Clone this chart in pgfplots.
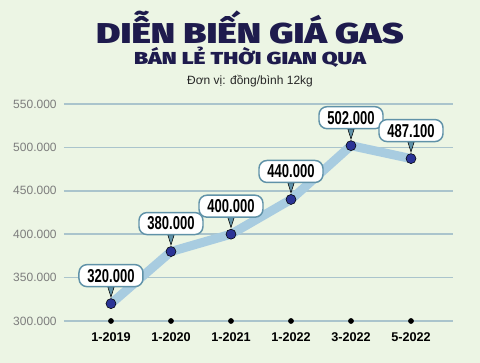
\documentclass[border=0pt]{standalone}
\usepackage{fontspec}
\setmainfont{Liberation Sans}
\newfontfamily\titlefont{Fira Sans Black}
\newfontfamily\labfont{Liberation Sans}[FakeStretch=0.7]
\usepackage{pgfplots}
\pgfplotsset{compat=1.18}
\definecolor{bgc}{RGB}{236,245,228}
\definecolor{titlec}{RGB}{30,27,77}
\definecolor{gridc}{RGB}{170,196,204}
\definecolor{linec}{RGB}{168,204,224}
\definecolor{boxc}{RGB}{96,146,168}
\definecolor{dotc}{RGB}{43,52,150}
\definecolor{tickgray}{RGB}{125,125,125}
\pgfplotstableread{
x y
0 320000
1 380000
2 400000
3 440000
4 502000
5 487100
}\gasdata
\begin{document}
\begin{tikzpicture}
\fill[bgc] (0,0) rectangle (360pt,272.25pt);
\node[text=titlec, inner sep=0pt, anchor=base] at (187.5pt,239.25pt) {\scalebox{1.3}[1.0]{\titlefont\fontsize{21.5}{24}\selectfont DIỄN BIẾN GIÁ GAS}};
\node[text=titlec, inner sep=0pt, anchor=base] at (187.5pt,223.5pt) {\scalebox{1.32}[1.0]{\titlefont\fontsize{13}{16}\selectfont BÁN LẺ THỜI GIAN QUA}};
\node[text=black!85, inner sep=0pt, anchor=base] at (187.5pt,208.5pt) {\fontsize{9}{10}\selectfont Đơn vị: đồng/bình 12kg};
\begin{axis}[
  at={(48pt,31.5pt)}, anchor=south west,
  scale only axis, width=291.75pt, height=162.75pt,
  xmin=-0.783, xmax=5.7, ymin=300000, ymax=550000,
  clip=false,
  axis line style={draw=none},
  major tick length=0pt,
  ymajorgrids, grid style={color=gridc, line width=1.1pt},
  ytick={300000,350000,400000,450000,500000,550000},
  scaled y ticks=false,
  /pgf/number format/assume math mode=true,
  yticklabel={\pgfmathprintnumber[fixed,precision=0,1000 sep={.}]{\tick}},
  yticklabel style={text=tickgray, font=\fontsize{9}{10}\selectfont, xshift=-2pt},
  xtick={0,1,2,3,4,5},
  xticklabels={1-2019,1-2020,1-2021,1-2022,3-2022,5-2022},
  xticklabel style={font=\bfseries\fontsize{9.5}{10}\selectfont, yshift=-5pt},
]
\addplot[line width=6.75pt, color=linec, line join=round] table[x=x,y=y]{\gasdata};
\addplot[only marks, mark=triangle*, mark size=5pt, mark options={fill=boxc, draw=none, yshift=10pt, rotate=180, xscale=0.55}] table[x=x,y=y]{\gasdata};
\addplot[draw=none, mark=none, point meta=y,
  nodes near coords={\pgfmathprintnumber[fixed,precision=0,1000 sep={.}]{\pgfplotspointmeta}},
  nodes near coords style={draw=boxc, line width=1.1pt, fill=white, rounded corners=6pt,
    minimum width=48pt, minimum height=16.5pt, inner sep=0pt, text=black,
    font=\labfont\bfseries\fontsize{14}{14}\selectfont, anchor=center, yshift=21pt}
  ] table[x=x,y=y]{\gasdata};
\addplot[only marks, mark=*, mark size=3.75pt, mark options={fill=dotc, draw=none}] table[x=x,y=y]{\gasdata};
\addplot[only marks, mark=*, mark size=1.9pt, mark options={fill=black, draw=none}] coordinates {(0,300000) (1,300000) (2,300000) (3,300000) (4,300000) (5,300000)};
\end{axis}
\end{tikzpicture}
\end{document}
